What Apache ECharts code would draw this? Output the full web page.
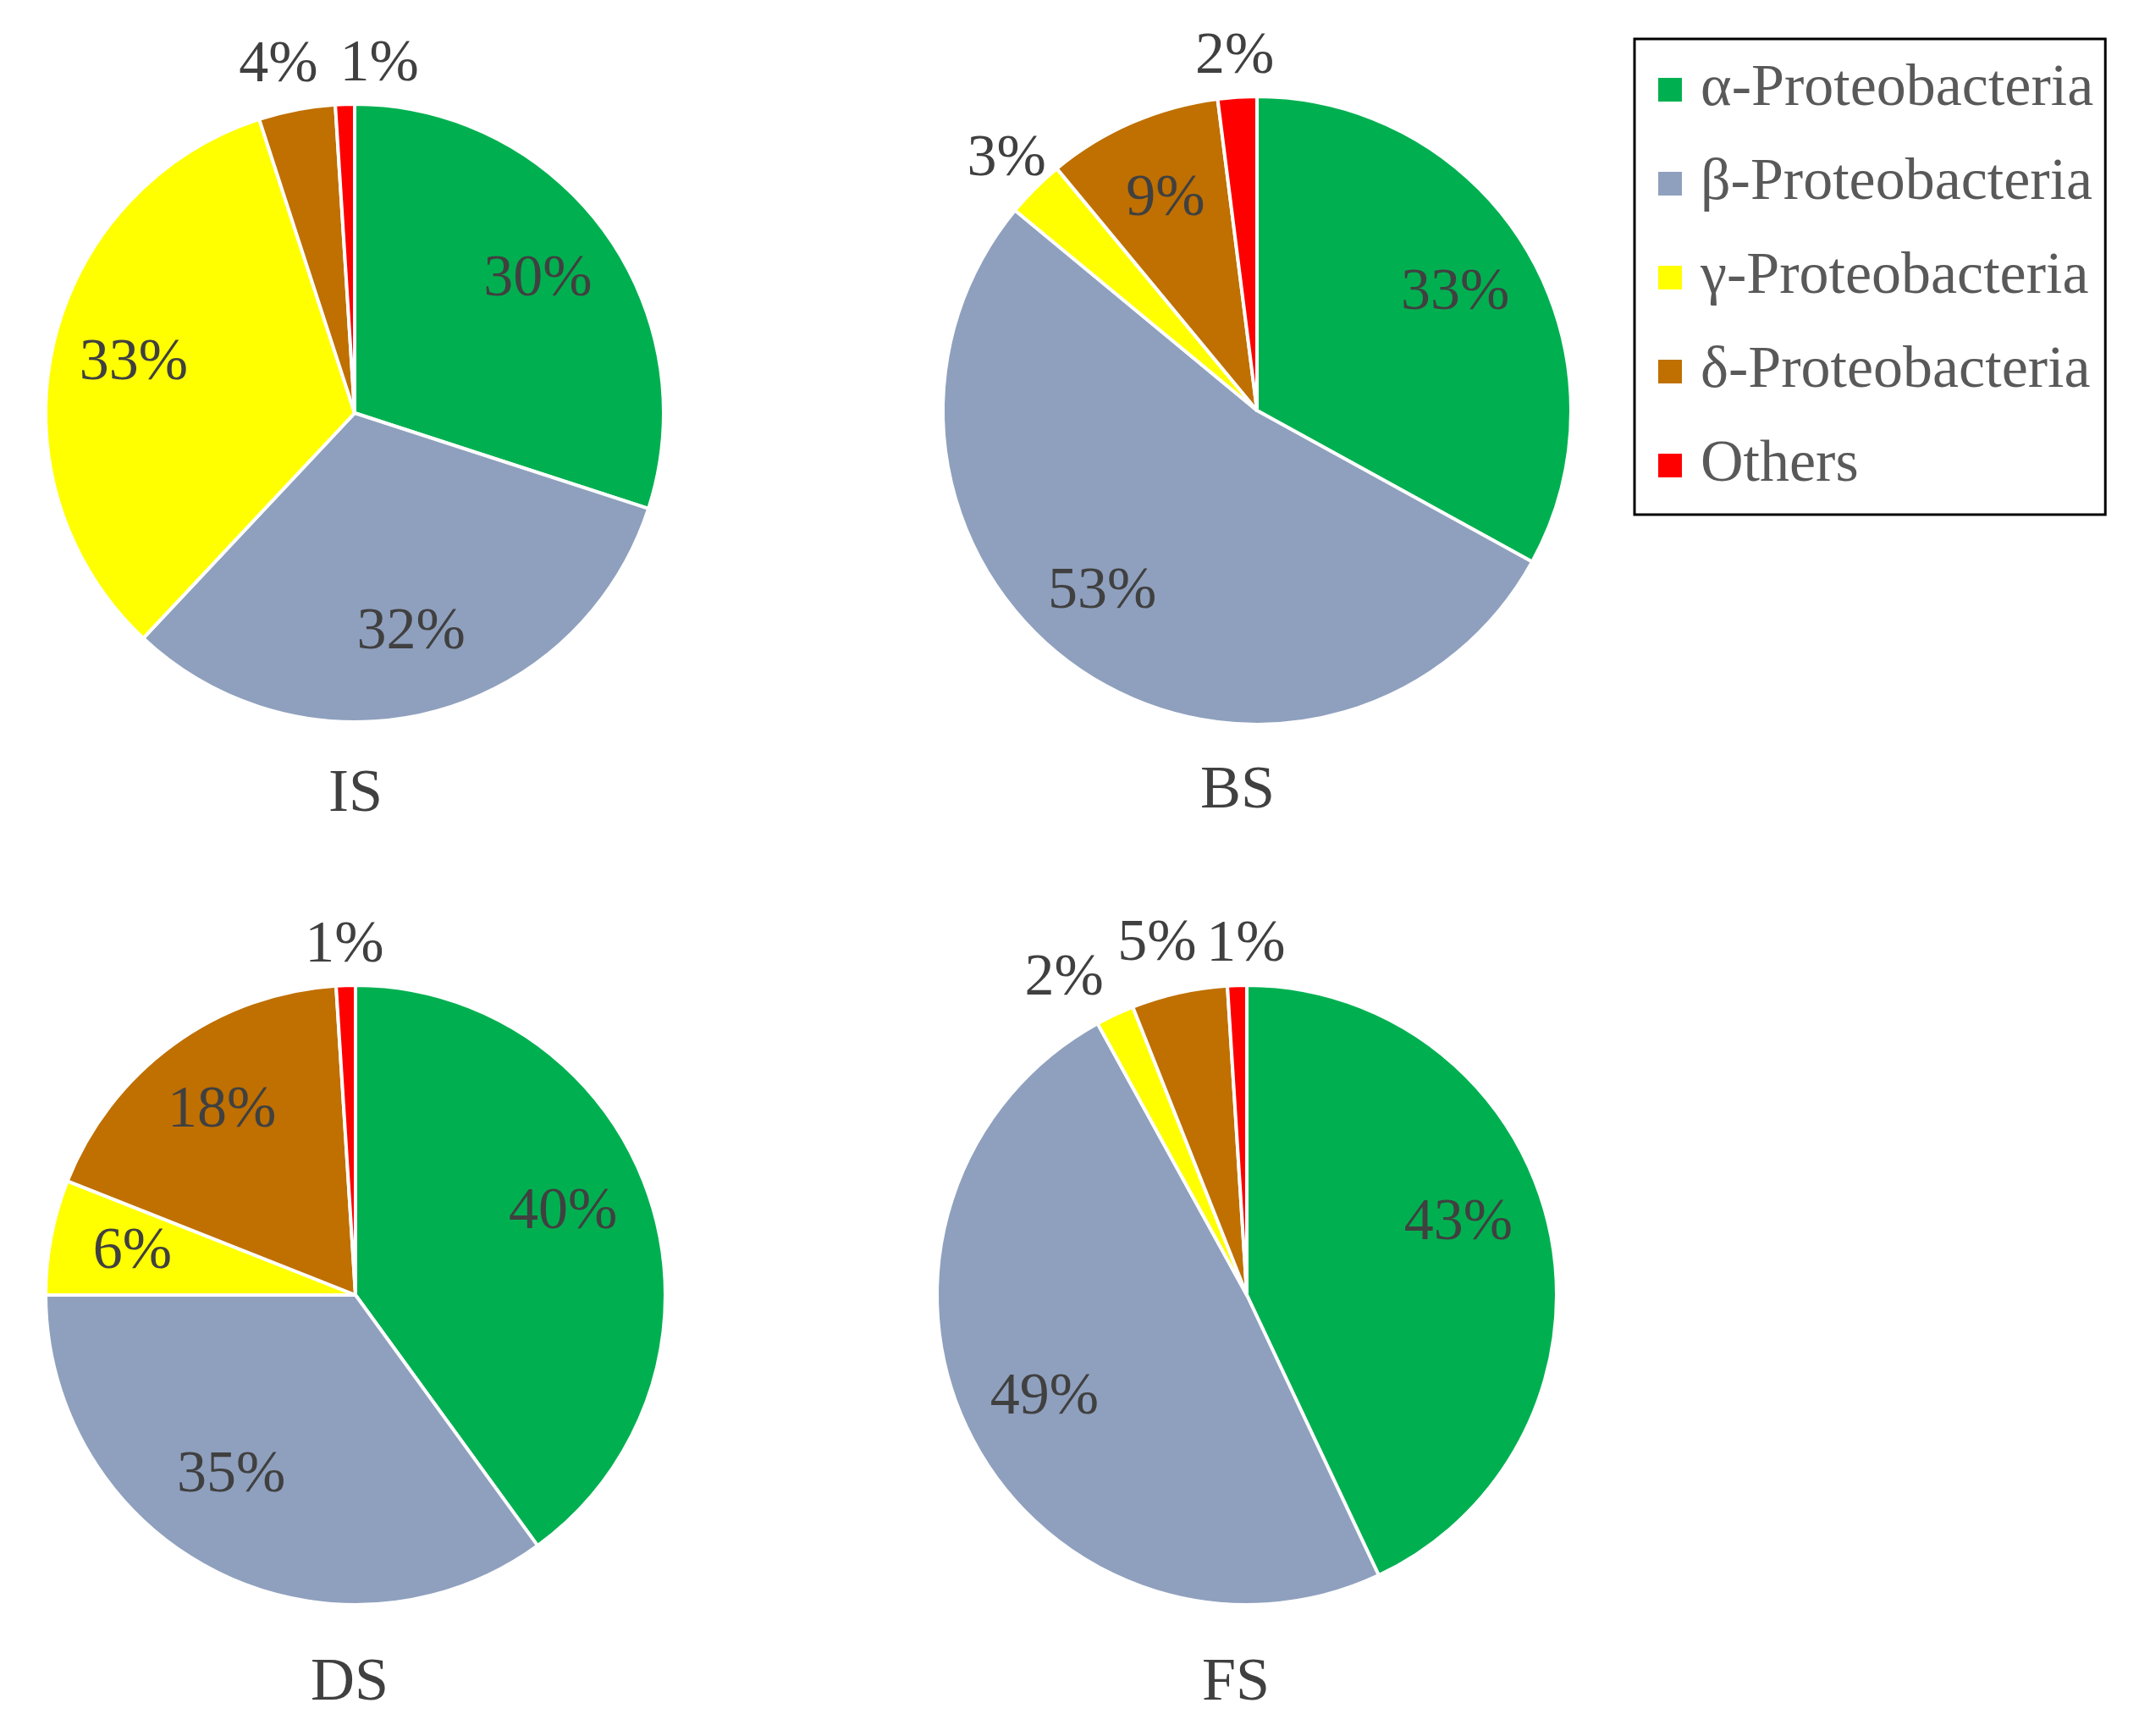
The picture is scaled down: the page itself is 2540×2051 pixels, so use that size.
<!DOCTYPE html>
<html>
<head>
<meta charset="utf-8">
<script src="https://cdn.jsdelivr.net/npm/echarts@6/dist/echarts.min.js"></script>
<style>
  html, body { margin: 0; padding: 0; background: #ffffff; }
  #chart { width: 2540px; height: 2051px; }
</style>
</head>
<body>
<div id="chart"></div>
<script>
// ---- data ----
const categories = ['α-Proteobacteria', 'β-Proteobacteria', 'γ-Proteobacteria', 'δ-Proteobacteria', 'Others'];
const panelNames = ['IS', 'BS', 'DS', 'FS'];
const valuesIS = [30, 32, 33, 4, 1];
const valuesBS = [33, 53, 3, 9, 2];
const valuesDS = [40, 35, 6, 18, 1];
const valuesFS = [43, 49, 2, 5, 1];
const colors = ['#00B050', '#8FA0BE', '#FFFF00', '#BF7000', '#FF0000'];

// ---- layout (styling, not data) ----
const layout = {
  IS: { center: [419, 488], r: 365, title: [420, 903],
        offsets: { 3: [-13, -6], 4: [42, 0] } },
  BS: { center: [1485, 485], r: 371, title: [1462, 899],
        offsets: { 1: [-30, -10] } },
  DS: { center: [420, 1530], r: 366, title: [413, 1953],
        offsets: { 0: [-10, -14], 1: [-25, -25] } },
  FS: { center: [1473, 1530], r: 366, title: [1460, 1953],
        offsets: { 0: [-12, -26], 2: [-40, 0], 3: [-16, -11], 4: [12, -1] } }
};
const panelValues = { IS: valuesIS, BS: valuesBS, DS: valuesDS, FS: valuesFS };
const FONT = '"Liberation Serif", "Times New Roman", serif';
const TXT = '#404040';
const outsideThreshold = 5;
const innerRatio = 1.45;   // labels at 0.725 r
const outerRatio = 2.24;   // labels at 1.12 r

const series = [];
const titles = [];
panelNames.forEach(function (p) {
  const L = layout[p];
  const vals = panelValues[p];
  series.push({
    type: 'pie', name: p, center: L.center, radius: [0, L.r],
    startAngle: 90, clockwise: true, silent: true, animation: false,
    label: { show: false }, labelLine: { show: false },
    itemStyle: { borderColor: '#ffffff', borderWidth: 4 },
    data: categories.map(function (c, i) {
      return { name: c, value: vals[i], itemStyle: { color: colors[i] } };
    })
  });
  [[innerRatio, false], [outerRatio, true]].forEach(function (cfg) {
    series.push({
      type: 'pie', name: p + (cfg[1] ? '-out' : '-in'), center: L.center, radius: [0, L.r * cfg[0]],
      startAngle: 90, clockwise: true, silent: true, animation: false,
      avoidLabelOverlap: false,
      labelLayout: { hideOverlap: false },
      labelLine: { show: false },
      itemStyle: { color: 'rgba(0,0,0,0)', borderWidth: 0 },
      label: { position: 'inside', formatter: '{c}%', fontFamily: FONT, fontSize: 70, color: TXT },
      data: categories.map(function (c, i) {
        const isOut = vals[i] <= outsideThreshold;
        const lab = { show: isOut === cfg[1] };
        if (L.offsets[i]) lab.offset = L.offsets[i];
        return { name: c, value: vals[i], label: lab };
      })
    });
  });
  titles.push({
    text: p, left: L.title[0], top: L.title[1], textAlign: 'center', padding: 0,
    textStyle: { fontFamily: FONT, fontSize: 72, fontWeight: 'normal', color: TXT }
  });
});

const chart = echarts.init(document.getElementById('chart'), null, { renderer: 'canvas' });
chart.setOption({
  backgroundColor: '#ffffff',
  animation: false,
  title: titles,
  legend: {
    orient: 'vertical', left: 1931, top: 46,
    padding: [25, 14, 23, 26],
    borderColor: '#000000', borderWidth: 3,
    icon: 'rect', itemWidth: 30, itemHeight: 30, itemGap: 41,
    selectedMode: false,
    textStyle: { fontFamily: FONT, fontSize: 70, lineHeight: 70, color: '#595959', padding: [0, 0, 0, 16] },
    data: categories.map(function (c, i) { return { name: c, itemStyle: { color: colors[i] } }; })
  },
  series: series
});
</script>
</body>
</html>
